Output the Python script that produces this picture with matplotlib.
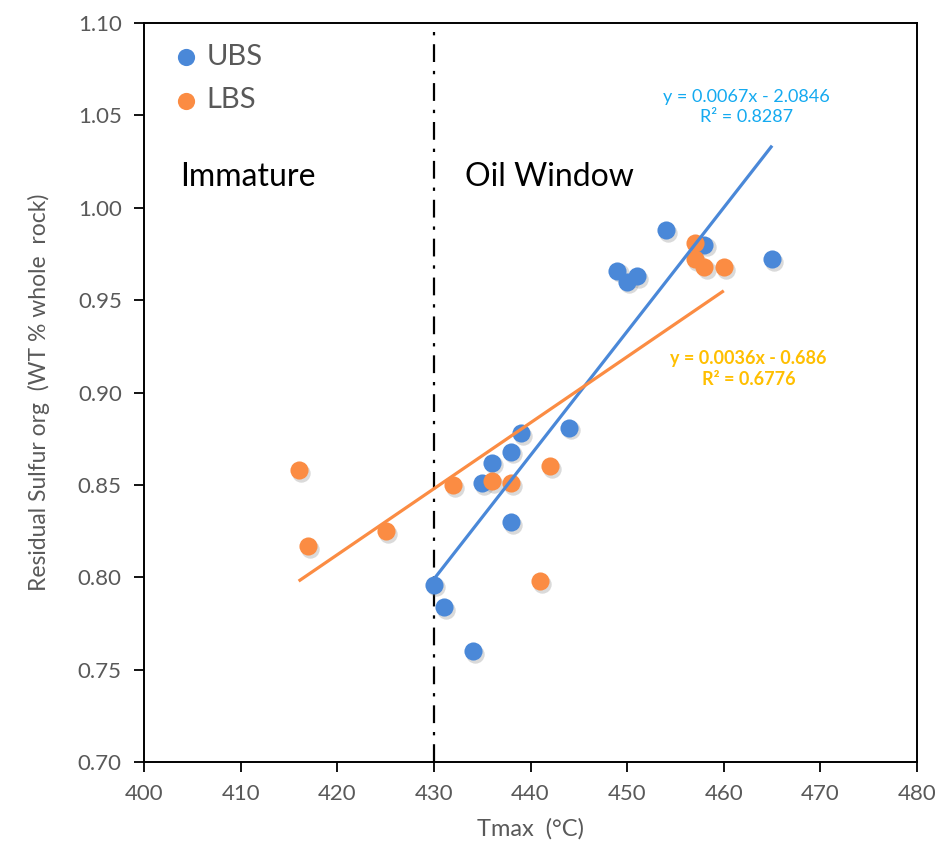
import numpy as np
import matplotlib.pyplot as plt
import matplotlib.transforms as mtransforms

plt.rcParams['font.family'] = ['Lato', 'DejaVu Sans']

# Tmax (°C) and residual organic sulfur (wt % whole rock)
ubs_tmax = [454, 449, 450, 451, 458, 465, 444, 439, 438, 436, 435, 438, 430, 431, 434]
ubs_sulfur = [0.988, 0.966, 0.960, 0.963, 0.980, 0.972, 0.881, 0.878, 0.868, 0.862, 0.851, 0.830, 0.796, 0.784, 0.760]

lbs_tmax = [416, 417, 425, 432, 436, 438, 442, 441, 457, 457, 458, 460]
lbs_sulfur = [0.858, 0.817, 0.825, 0.850, 0.852, 0.851, 0.860, 0.798, 0.981, 0.972, 0.968, 0.968]

ubs_eq = "y = 0.0067x - 2.0846\nR² = 0.8287"
lbs_eq = "y = 0.0036x - 0.686\nR² = 0.6776"

blue = "#4a88d8"
orange = "#fb8c43"
gray = "#595959"

fig = plt.figure(figsize=(9.39, 8.46), dpi=100)
ax = fig.add_axes([0.1534, 0.0993, 0.8232, 0.8735])

ax.set_xlim(400, 480)
ax.set_ylim(0.70, 1.10)
ax.set_xticks(np.arange(400, 481, 10))
ax.set_yticks(np.arange(0.70, 1.101, 0.05))
ax.set_yticklabels(["%.2f" % v for v in np.arange(0.70, 1.101, 0.05)])

# soft drop shadow under the markers
shadow = mtransforms.offset_copy(ax.transData, fig=fig, x=1.5, y=-2.0, units='points')
for xs, ys in [(ubs_tmax, ubs_sulfur), (lbs_tmax, lbs_sulfur)]:
    ax.scatter(xs, ys, s=175, color='#7a7a7a', alpha=0.28, lw=0, transform=shadow, zorder=2)

# trendlines over the range of each series
for xs, ys, c in [(ubs_tmax, ubs_sulfur, blue), (lbs_tmax, lbs_sulfur, orange)]:
    k, b = np.polyfit(xs, ys, 1)
    xx = np.array([min(xs), max(xs)])
    ax.plot(xx, k * xx + b, color=c, lw=2.3, zorder=4, solid_capstyle='butt')

ax.scatter(ubs_tmax, ubs_sulfur, s=170, color=blue, lw=0, zorder=3, label="UBS")
ax.scatter(lbs_tmax, lbs_sulfur, s=170, color=orange, lw=0, zorder=3, label="LBS")

ax.axvline(430, color='black', lw=1.6, ls=(0, (8, 4, 1.5, 4)), zorder=1)

ax.text(0.047, 0.792, "Immature", transform=ax.transAxes, fontsize=23, color='black', va='center')
ax.text(0.415, 0.792, "Oil Window", transform=ax.transAxes, fontsize=23, color='black', va='center')

ax.text(0.779, 0.886, ubs_eq, transform=ax.transAxes, fontsize=13, color='#14aaf0',
        ha='center', va='center', linespacing=1.3)
ax.text(0.782, 0.532, lbs_eq, transform=ax.transAxes, fontsize=13, color='#ffbf00',
        fontweight='bold', ha='center', va='center', linespacing=1.3)

leg = ax.legend(loc='upper left', bbox_to_anchor=(0.039, 0.972), frameon=False, fontsize=21,
                handlelength=0.8, handletextpad=0.3, labelspacing=0.6, markerscale=0.95,
                borderaxespad=0, borderpad=0)
for t in leg.get_texts():
    t.set_color(gray)

for sp in ax.spines.values():
    sp.set_color('black')
    sp.set_linewidth(1.4)
ax.tick_params(axis='both', direction='out', length=7, width=1.3, color='black',
               labelcolor=gray, labelsize=16, pad=9)

ax.set_xlabel("Tmax  (°C)", fontsize=17, color=gray, labelpad=10)
ax.set_ylabel("Residual Sulfur org  (WT % whole  rock)", fontsize=16.5, color=gray, labelpad=20)

fig.savefig("out.png", dpi=100)
